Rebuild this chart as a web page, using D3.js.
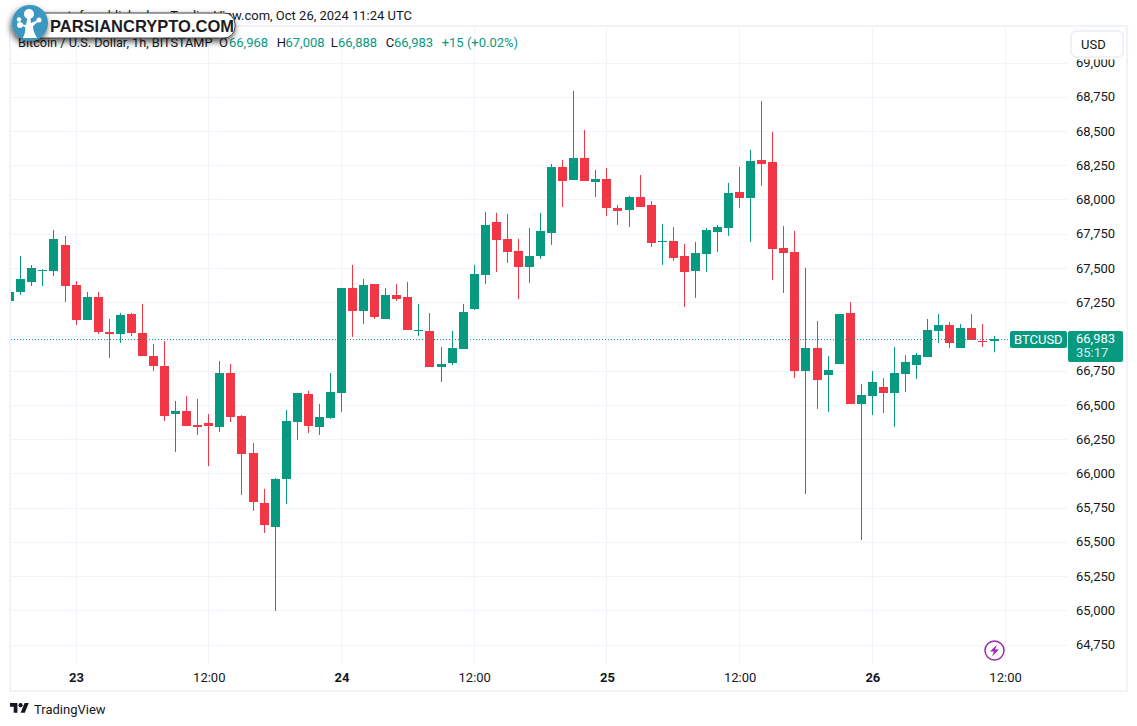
<!DOCTYPE html>
<html>
<head>
<meta charset="utf-8">
<title>BTCUSD 1h</title>
<script src="https://cdn.jsdelivr.net/npm/d3@7"></script>
<style>
  html, body { margin: 0; padding: 0; background: #fff; }
  svg { display: block; }
  text { font-family: Roboto, "Liberation Sans", sans-serif; font-size: 13px; fill: #131722; }
  .axis path, .axis line { display: none; }
  .axis text { font-family: Roboto, sans-serif; font-size: 13px; fill: #131722; }
</style>
</head>
<body>
<div class="chart"></div>
<script>
// hourly candles, first one is Oct 22 18:00 UTC
var firstHour = new Date(Date.UTC(2024, 9, 22, 18));

var opens = [67262, 67328, 67401, 67481, 67481, 67671, 67379, 67124, 67292, 67036,
  67021, 67167, 67029, 66861, 66788, 66437, 66459, 66357, 66371, 66342,
  66736, 66423, 66153, 65787, 65612, 65963, 66379, 66584, 66343, 66408,
  66591, 67358, 67190, 67387, 67131, 67307, 67292, 67044, 67044, 66781,
  66810, 66912, 67204, 67453, 67840, 67716, 67628, 67511, 67591, 67759,
  68242, 68147, 68307, 68132, 68154, 67942, 67927, 68022, 67964, 67694,
  67701, 67592, 67482, 67606, 67767, 67796, 68059, 68015, 68293, 68278,
  67650, 67621, 66751, 66919, 66722, 66802, 67175, 66510, 66569, 66634,
  66591, 66729, 66795, 66853, 67043, 67087, 66919, 67065, 66970, 66968];

var highs = [67340, 67591, 67525, 67494, 67781, 67737, 67408, 67328, 67328, 67131,
  67175, 67175, 67240, 66948, 66970, 66532, 66568, 66547, 66437, 66824,
  66802, 66430, 66226, 65890, 65970, 66467, 66591, 66606, 66511, 66737,
  67358, 67526, 67423, 67387, 67358, 67387, 67402, 67241, 67175, 66927,
  67044, 67241, 67526, 67913, 67906, 67898, 67716, 67796, 67906, 68263,
  68293, 68797, 68512, 68220, 68234, 67964, 68030, 68183, 67993, 67825,
  67803, 67679, 67694, 67796, 67818, 68125, 68242, 68366, 68724, 68497,
  67811, 67774, 67504, 67116, 66861, 67168, 67255, 66656, 66751, 66700,
  66927, 66868, 66883, 67131, 67168, 67109, 67094, 67168, 67094, 67008];

var lows = [67250, 67306, 67372, 67372, 67445, 67255, 67087, 67124, 67021, 66846,
  66956, 67007, 66861, 66751, 66386, 66159, 66349, 66284, 66057, 66306,
  66379, 65846, 65729, 65568, 65000, 65780, 66248, 66299, 66284, 66401,
  66452, 67000, 67095, 67131, 67131, 67263, 67051, 67007, 66781, 66671,
  66795, 66912, 67197, 67387, 67475, 67540, 67277, 67394, 67570, 67672,
  67949, 68147, 68139, 68022, 67884, 67818, 67803, 67949, 67657, 67526,
  67555, 67219, 67285, 67475, 67621, 67738, 67942, 67694, 68103, 67416,
  67321, 66700, 65853, 66474, 66452, 66802, 66510, 65517, 66430, 66444,
  66342, 66598, 66693, 66853, 66956, 66919, 66919, 66978, 66927, 66888];

var closes = [67328, 67423, 67503, 67489, 67715, 67372, 67124, 67292, 67036, 67021,
  67160, 67029, 66861, 66788, 66422, 66459, 66349, 66342, 66349, 66736,
  66415, 66145, 65795, 65627, 65963, 66386, 66591, 66350, 66416, 66598,
  67358, 67190, 67380, 67146, 67307, 67277, 67051, 67051, 66781, 66803,
  66920, 67182, 67460, 67818, 67708, 67621, 67511, 67591, 67774, 68242,
  68139, 68307, 68139, 68154, 67942, 67920, 68022, 67949, 67686, 67701,
  67577, 67475, 67613, 67781, 67803, 68052, 68015, 68285, 68263, 67643,
  67613, 66752, 66919, 66685, 66758, 67168, 66510, 66576, 66671, 66591,
  66737, 66817, 66868, 67051, 67087, 66956, 67065, 66978, 66963, 66983];

var priceTicks = [64750, 65000, 65250, 65500, 65750, 66000, 66250, 66500, 66750,
  67000, 67250, 67500, 67750, 68000, 68250, 68500, 68750, 69000];

var timeTicks = [
  new Date(Date.UTC(2024, 9, 23, 0)), new Date(Date.UTC(2024, 9, 23, 12)),
  new Date(Date.UTC(2024, 9, 24, 0)), new Date(Date.UTC(2024, 9, 24, 12)),
  new Date(Date.UTC(2024, 9, 25, 0)), new Date(Date.UTC(2024, 9, 25, 12)),
  new Date(Date.UTC(2024, 9, 26, 0)), new Date(Date.UTC(2024, 9, 26, 12))
];
var timeLabels = ["23", "12:00", "24", "12:00", "25", "12:00", "26", "12:00"];

var legendLetters = ["O", "H", "L", "C"];
var legendValues = ["66,968", "67,008", "66,888", "66,983"];
var lastPrice = 66983;

var green = "#089981", red = "#F23645", gridColor = "#F0F3FA";

var width = 1137, height = 726;

var candles = opens.map(function(o, i) {
  return {
    date: new Date(firstHour.getTime() + i * 3600000),
    open: o, high: highs[i], low: lows[i], close: closes[i]
  };
});

var x = d3.scaleUtc()
          .domain([firstHour, candles[candles.length - 1].date])
          .range([9.705, 994.001]);

var y = d3.scaleLinear()
          .domain([64750, 68750])
          .range([645, 97.3]);

var svg = d3.select(".chart").append("svg")
            .attr("width", width)
            .attr("height", height);

var defs = svg.append("defs");
defs.append("clipPath").attr("id", "pane")
    .append("rect").attr("x", 11).attr("y", 27).attr("width", 1056).attr("height", 636);
var shadow = defs.append("filter").attr("id", "pillShadow")
    .attr("x", "-20%").attr("y", "-40%").attr("width", "140%").attr("height", "200%");
shadow.append("feDropShadow")
    .attr("dx", -1).attr("dy", 3).attr("stdDeviation", 3)
    .attr("flood-color", "#000").attr("flood-opacity", 0.7);

// frame around the chart
svg.append("rect")
   .attr("x", 10).attr("y", 26).attr("width", 1117).attr("height", 665)
   .attr("fill", "#fff")
   .attr("stroke", gridColor)
   .attr("stroke-width", 2);

// grid
svg.append("g").selectAll("line")
   .data(priceTicks)
   .enter().append("line")
   .attr("x1", 11).attr("x2", 1067)
   .attr("y1", function(d) { return Math.floor(y(d)) + 0.5; })
   .attr("y2", function(d) { return Math.floor(y(d)) + 0.5; })
   .attr("stroke", gridColor);

svg.append("g").selectAll("line")
   .data(timeTicks)
   .enter().append("line")
   .attr("x1", function(d) { return Math.floor(x(d)) + 0.5; })
   .attr("x2", function(d) { return Math.floor(x(d)) + 0.5; })
   .attr("y1", 27).attr("y2", 663)
   .attr("stroke", gridColor);

// candles
var candle = svg.append("g")
   .attr("clip-path", "url(#pane)")
   .selectAll("g")
   .data(candles)
   .enter().append("g")
   .attr("fill", function(d) { return d.close >= d.open ? green : red; });

candle.append("rect")
   .attr("x", function(d) { return Math.floor(x(d.date)); })
   .attr("width", 1)
   .attr("y", function(d) { return y(d.high); })
   .attr("height", function(d) { return y(d.low) - y(d.high); });

candle.append("rect")
   .attr("x", function(d) { return Math.floor(x(d.date)) - 4; })
   .attr("width", 9)
   .attr("y", function(d) { return Math.round(y(Math.max(d.open, d.close))); })
   .attr("height", function(d) {
     return Math.max(1, Math.round(Math.abs(y(d.open) - y(d.close))));
   });

// last price line
svg.append("line")
   .attr("x1", 11).attr("x2", 1010)
   .attr("y1", Math.floor(y(lastPrice)) + 0.5)
   .attr("y2", Math.floor(y(lastPrice)) + 0.5)
   .attr("stroke", green)
   .attr("stroke-dasharray", "1 2");

// axes
var yAxis = d3.axisRight(y)
              .tickValues(priceTicks)
              .tickSize(0)
              .tickFormat(d3.format(","));

svg.append("g")
   .attr("class", "y axis")
   .attr("transform", "translate(1076,-0.5)")
   .call(yAxis)
   .selectAll("text")
   .attr("x", 0);

var xAxis = d3.axisBottom(x)
              .tickValues(timeTicks)
              .tickSize(0)
              .tickFormat(function(d, i) { return timeLabels[i]; });

svg.append("g")
   .attr("class", "x axis")
   .attr("transform", "translate(0,671)")
   .call(xAxis)
   .selectAll("text")
   .attr("y", 2)
   .style("font-weight", function(d, i) { return i % 2 == 0 ? 700 : 400; });

// USD button, its white margin hides the top of the 69,000 label
svg.append("rect")
   .attr("x", 1068).attr("y", 27).attr("width", 58).attr("height", 32.5)
   .attr("fill", "#fff");
svg.append("rect")
   .attr("x", 1071).attr("y", 31).attr("width", 52).attr("height", 26).attr("rx", 5)
   .attr("fill", "#fff").attr("stroke", "#E0E3EB");
svg.append("text").attr("x", 1081).attr("y", 48.5).text("USD");

// last price labels
svg.append("rect")
   .attr("x", 1010).attr("y", 331).attr("width", 57).attr("height", 17).attr("rx", 2)
   .attr("fill", green);
svg.append("text").attr("x", 1014).attr("y", 343.5).style("fill", "#fff").text("BTCUSD");
svg.append("rect")
   .attr("x", 1068).attr("y", 331).attr("width", 55).attr("height", 31).attr("rx", 2)
   .attr("fill", green);
svg.append("text").attr("x", 1076).attr("y", 343).style("fill", "#fff").text(d3.format(",")(lastPrice));
svg.append("text").attr("x", 1076).attr("y", 357).style("fill", "#d5efe9").text("35:17");

// bolt icon
svg.append("circle")
   .attr("cx", 994.5).attr("cy", 650.5).attr("r", 9.5)
   .attr("fill", "#fff").attr("stroke", "#9C27B0").attr("stroke-width", 1.5);
svg.append("path")
   .attr("d", "M997 644.5L990 651.5H994L992 656.5L999 649.5H995Z")
   .attr("fill", "#9C27B0");

// header and legend
svg.append("text").attr("x", 412).attr("y", 20).attr("text-anchor", "end")
   .text("mrcryptofx published on TradingView.com, Oct 26, 2024 11:24 UTC");

svg.append("text").attr("x", 18).attr("y", 47).style("font-size", "12.7px")
   .text("Bitcoin / U.S. Dollar, 1h, BITSTAMP");

var letterX = [219, 276.7, 330.7, 385.7];
var valueX = [229, 285.5, 338, 394];
legendLetters.forEach(function(l, i) {
  svg.append("text").attr("x", letterX[i]).attr("y", 47).text(l);
  svg.append("text").attr("x", valueX[i]).attr("y", 47).style("fill", green).text(legendValues[i]);
});
svg.append("text").attr("x", 441.7).attr("y", 47).style("fill", green).text("+15 (+0.02%)");

// watermark pill
svg.append("rect")
   .attr("x", 30).attr("y", 13).attr("width", 205).attr("height", 25).attr("rx", 11)
   .attr("fill", "#fff").attr("stroke", "#444").attr("stroke-width", 1)
   .attr("filter", "url(#pillShadow)");
svg.append("text")
   .attr("x", 50).attr("y", 32)
   .style("font-family", "'Liberation Sans', sans-serif")
   .style("font-size", "16.5px").style("font-weight", 700).style("fill", "#1d1d1f")
   .text("PARSIANCRYPTO.COM");

var logo = svg.append("g");
logo.append("circle").attr("cx", 30).attr("cy", 23).attr("r", 18)
    .attr("fill", "#3A97BF").attr("filter", "url(#pillShadow)");
logo.append("path")
    .attr("d", "M23 38C25 33 26 30 25 27L20 25L20 24L26 25L28 15L30 15L31 23L38 20L39 21L33 26C33 31 35 34 37 38Z")
    .attr("fill", "#fff");
[[29, 14, 5], [20, 25, 3], [19, 19.5, 2.2], [39, 20, 2.5]].forEach(function(c) {
  logo.append("circle").attr("cx", c[0]).attr("cy", c[1]).attr("r", c[2]).attr("fill", "#fff");
});

// footer logo
svg.append("path")
   .attr("transform", "translate(10,701) scale(0.53)")
   .attr("d", "M14 22H7V11H0V4h14v18zM28 22h-8l7.5-18h8L28 22z")
   .attr("fill", "#131722");
svg.append("circle").attr("cx", 20.6).attr("cy", 705.2).attr("r", 2.1).attr("fill", "#131722");
svg.append("text").attr("x", 34).attr("y", 714).text("TradingView");
</script>
</body>
</html>
